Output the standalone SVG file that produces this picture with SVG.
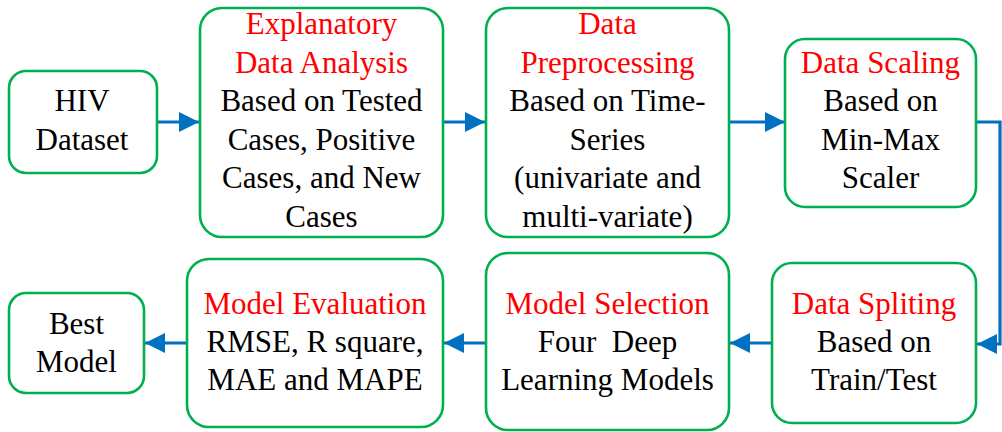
<svg xmlns="http://www.w3.org/2000/svg" width="1002" height="432" viewBox="0 0 1002 432">
<style>
.box{fill:#fff;stroke:#00B050;stroke-width:2.6}
.t{font-family:'Liberation Serif','Times New Roman','DejaVu Serif',serif;font-size:31px;fill:#000;text-anchor:middle}
.h{fill:#FF0000}
.c{fill:none;stroke:#0070C0;stroke-width:3.2}
</style>
<defs>
<marker id="ah" markerUnits="userSpaceOnUse" markerWidth="22" markerHeight="22" refX="20" refY="10" orient="auto">
<path d="M0,0 L20,10 L0,20 Z" fill="#0070C0"/>
</marker>
</defs>
<rect width="1002" height="432" fill="#fff"/>
<g id="connectors">
<line class="c" x1="157" y1="122" x2="199" y2="122" marker-end="url(#ah)"/>
<line class="c" x1="443" y1="122" x2="485" y2="122" marker-end="url(#ah)"/>
<line class="c" x1="729" y1="122" x2="785" y2="122" marker-end="url(#ah)"/>
<path class="c" d="M976,122 H1000 V344 H977" marker-end="url(#ah)"/>
<line class="c" x1="772" y1="343" x2="730" y2="343" marker-end="url(#ah)"/>
<line class="c" x1="486" y1="343" x2="444" y2="343" marker-end="url(#ah)"/>
<line class="c" x1="187" y1="343" x2="145" y2="343" marker-end="url(#ah)"/>
</g>
<g id="hiv">
<rect class="box" x="9" y="71" width="148" height="102" rx="17"/>
<text class="t" x="82" y="111">HIV</text>
<text class="t" x="82" y="150">Dataset</text>
</g>
<g id="eda">
<rect class="box" x="200" y="8" width="243" height="229" rx="22"/>
<text class="t h" x="321.5" y="34">Explanatory</text>
<text class="t h" x="321.5" y="73">Data Analysis</text>
<text class="t" x="321.5" y="111">Based on Tested</text>
<text class="t" x="321.5" y="150">Cases, Positive</text>
<text class="t" x="321.5" y="188">Cases, and New</text>
<text class="t" x="321.5" y="227">Cases</text>
</g>
<g id="preprocessing">
<rect class="box" x="486" y="8" width="243" height="229" rx="22"/>
<text class="t h" x="607.5" y="34">Data</text>
<text class="t h" x="607.5" y="73">Preprocessing</text>
<text class="t" x="607.5" y="111">Based on Time-</text>
<text class="t" x="607.5" y="150">Series</text>
<text class="t" x="607.5" y="188">(univariate and</text>
<text class="t" x="607.5" y="227">multi-variate)</text>
</g>
<g id="scaling">
<rect class="box" x="785" y="39" width="191" height="168" rx="20"/>
<text class="t h" x="880.5" y="73">Data Scaling</text>
<text class="t" x="880.5" y="111">Based on</text>
<text class="t" x="880.5" y="150">Min-Max</text>
<text class="t" x="880.5" y="188">Scaler</text>
</g>
<g id="splitting">
<rect class="box" x="772" y="263" width="204" height="160" rx="20"/>
<text class="t h" x="874" y="314">Data Spliting</text>
<text class="t" x="874" y="352">Based on</text>
<text class="t" x="874" y="390">Train/Test</text>
</g>
<g id="selection">
<rect class="box" x="486" y="253" width="243" height="177" rx="22"/>
<text class="t h" x="607.5" y="314">Model Selection</text>
<text class="t" x="607.5" y="352" xml:space="preserve">Four  Deep</text>
<text class="t" x="607.5" y="390">Learning Models</text>
</g>
<g id="evaluation">
<rect class="box" x="187" y="259" width="256" height="168" rx="22"/>
<text class="t h" x="315" y="314">Model Evaluation</text>
<text class="t" x="315" y="352">RMSE, R square,</text>
<text class="t" x="315" y="390">MAE and MAPE</text>
</g>
<g id="best">
<rect class="box" x="9" y="293" width="135" height="100" rx="17"/>
<text class="t" x="76.5" y="334">Best</text>
<text class="t" x="76.5" y="372">Model</text>
</g>
</svg>
